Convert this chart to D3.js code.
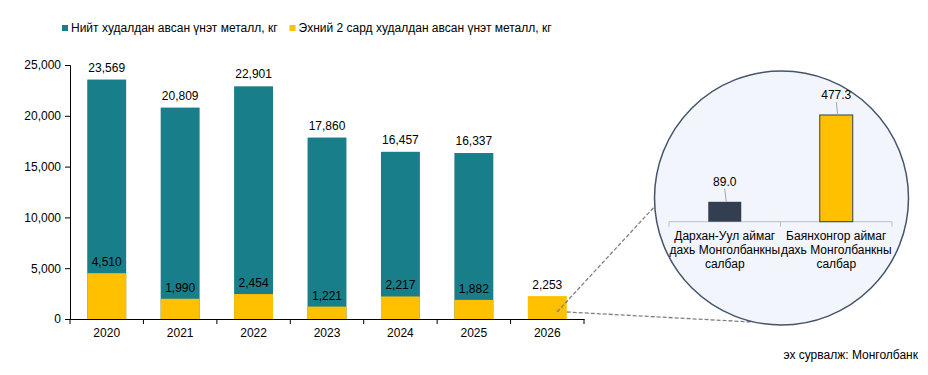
<!DOCTYPE html>
<html>
<head>
<meta charset="utf-8">
<script src="https://cdn.jsdelivr.net/npm/d3@7"></script>
<style>
  body { margin: 0; background: #fff; }
  svg { font-family: "Liberation Sans", Arial, sans-serif; }
  .axis text { font-size: 12px; fill: #000; }
  .axis path, .axis line { stroke: #000; }
</style>
</head>
<body>
<div id="chart"></div>
<script>
(function(){
  'use strict';

  // data
  var years = ['2020', '2021', '2022', '2023', '2024', '2025', '2026'];
  var totals = [23569, 20809, 22901, 17860, 16457, 16337, null];
  var lastTwo = [4510, 1990, 2454, 1221, 2217, 1882, 2253];
  var yTicks = [0, 5000, 10000, 15000, 20000, 25000];
  var seriesNames = ['Нийт худалдан авсан үнэт металл, кг', 'Эхний 2 сард худалдан авсан үнэт металл, кг'];

  var branches = ['Дархан-Уул аймаг дахь Монголбанкны салбар', 'Баянхонгор аймаг дахь Монголбанкны салбар'];
  var branchLines = [['Дархан-Уул аймаг', 'дахь Монголбанкны', 'салбар'], ['Баянхонгор аймаг', 'дахь Монголбанкны', 'салбар']];
  var branchValues = [89.0, 477.3];
  var sourceText = 'эх сурвалж: Монголбанк';

  var W = 928, H = 375;
  var teal = '#187e89', gold = '#ffc000', slate = '#333f50';

  var svg = d3.select('#chart').append('svg')
    .attr('width', W)
    .attr('height', H);

  var x = d3.scaleBand()
    .domain(years)
    .range([70, 584])
    .paddingInner(0.47)
    .paddingOuter(0.235);

  var y = d3.scaleLinear()
    .domain([0, 25000])
    .range([319, 65]);

  var fmt = d3.format(',');

  // axes
  svg.append('g')
    .attr('class', 'axis')
    .attr('transform', 'translate(70,0)')
    .call(d3.axisLeft(y).tickValues(yTicks).tickSize(5).tickPadding(4).tickFormat(fmt));

  var xAxis = svg.append('g')
    .attr('class', 'axis')
    .attr('transform', 'translate(0,319)')
    .call(d3.axisBottom(x).tickSize(0).tickPadding(9));

  // ticks between categories
  var step = x.step(), x0 = x.range()[0];
  xAxis.selectAll('.sep')
    .data(d3.range(years.length + 1))
    .enter()
    .append('line')
    .attr('class', 'sep')
    .attr('x1', function(i) { return x0 + i * step; })
    .attr('x2', function(i) { return x0 + i * step; })
    .attr('y1', 0)
    .attr('y2', 5)
    .style('stroke', '#000');

  var rows = years.map(function(d, i) { return {year: d, total: totals[i], part: lastTwo[i]}; });

  // total bars
  svg.selectAll('.tot')
    .data(rows.filter(function(d) { return d.total != null; }))
    .enter()
    .append('rect')
    .attr('class', 'tot')
    .attr('x', function(d) { return x(d.year); })
    .attr('width', x.bandwidth())
    .attr('y', function(d) { return y(d.total); })
    .attr('height', function(d) { return y(0) - y(d.total); })
    .style('fill', teal);

  // first two months bars
  svg.selectAll('.part')
    .data(rows)
    .enter()
    .append('rect')
    .attr('class', 'part')
    .attr('x', function(d) { return x(d.year); })
    .attr('width', x.bandwidth())
    .attr('y', function(d) { return y(d.part); })
    .attr('height', function(d) { return y(0) - y(d.part); })
    .style('fill', gold);

  svg.selectAll('.totlbl')
    .data(rows.filter(function(d) { return d.total != null; }))
    .enter()
    .append('text')
    .attr('class', 'totlbl')
    .attr('x', function(d) { return x(d.year) + x.bandwidth() / 2; })
    .attr('y', function(d) { return y(d.total) - 8; })
    .attr('text-anchor', 'middle')
    .style('font-size', '12px')
    .text(function(d) { return fmt(d.total); });

  svg.selectAll('.partlbl')
    .data(rows)
    .enter()
    .append('text')
    .attr('class', 'partlbl')
    .attr('x', function(d) { return x(d.year) + x.bandwidth() / 2; })
    .attr('y', function(d) { return y(d.part) - 7; })
    .attr('text-anchor', 'middle')
    .style('font-size', '12px')
    .text(function(d) { return fmt(d.part); });

  // legend
  var legend = svg.append('g').attr('transform', 'translate(62,28)');
  var lx = 0;
  seriesNames.forEach(function(name, i) {
    var g = legend.append('g').attr('transform', 'translate(' + lx + ',0)');
    g.append('rect').attr('x', 0).attr('y', -3).attr('width', 6).attr('height', 6)
      .style('fill', i === 0 ? teal : gold);
    var t = g.append('text').attr('x', 9).attr('y', 4)
      .style('font-size', '12px').text(name);
    lx += 9 + t.node().getComputedTextLength() + 12;
  });

  // zoom circle
  var cx = 781.5, cy = 198, r = 127;
  var last = rows[rows.length - 1];
  var px = x(last.year) + x.bandwidth() * 0.75, py = y(0) - 7;
  var px2 = x(last.year) + x.bandwidth(), py2 = y(0) - 7;

  svg.append('line')
    .attr('x1', px).attr('y1', py)
    .attr('x2', cx - 125.5).attr('y2', cy + 7)
    .style('stroke', '#808080').style('stroke-width', 1.3).style('stroke-dasharray', '4,2');
  svg.append('line')
    .attr('x1', px2).attr('y1', py2)
    .attr('x2', cx - 30).attr('y2', cy + 124)
    .style('stroke', '#808080').style('stroke-width', 1.3).style('stroke-dasharray', '4,2');

  svg.append('circle')
    .attr('cx', cx).attr('cy', cy).attr('r', r)
    .style('fill', '#f2f5fb')
    .style('stroke', '#44546a')
    .style('stroke-width', 1.5);

  var bx = d3.scaleBand()
    .domain(branches)
    .range([669, 892]);

  var by = d3.scaleLinear()
    .domain([0, 500])
    .range([221.7, 109.9]);

  var inset = svg.append('g');
  inset.append('line')
    .attr('x1', bx.range()[0]).attr('x2', bx.range()[1])
    .attr('y1', by(0)).attr('y2', by(0))
    .style('stroke', '#bfbfbf');
  inset.selectAll('.itick')
    .data([0, 1, 2])
    .enter()
    .append('line')
    .attr('x1', function(i) { return bx.range()[0] + i * bx.step(); })
    .attr('x2', function(i) { return bx.range()[0] + i * bx.step(); })
    .attr('y1', by(0)).attr('y2', by(0) + 5)
    .style('stroke', '#bfbfbf');

  var bw = 33;
  var bdata = branches.map(function(b, i) { return {name: b, value: branchValues[i], lines: branchLines[i], i: i}; });

  inset.selectAll('.ibar')
    .data(bdata)
    .enter()
    .append('rect')
    .attr('x', function(d) { return bx(d.name) + bx.bandwidth() / 2 - bw / 2; })
    .attr('width', bw)
    .attr('y', function(d) { return by(d.value); })
    .attr('height', function(d) { return by(0) - by(d.value); })
    .style('fill', function(d) { return d.i === 0 ? slate : gold; })
    .style('stroke', function(d) { return d.i === 0 ? 'none' : slate; })
    .style('stroke-width', 1);

  inset.selectAll('.ilead')
    .data(bdata)
    .enter()
    .append('line')
    .attr('x1', function(d) { return bx(d.name) + bx.bandwidth() / 2; })
    .attr('x2', function(d) { return bx(d.name) + bx.bandwidth() / 2 + 1.5; })
    .attr('y1', function(d) { return by(d.value) - 13; })
    .attr('y2', function(d) { return by(d.value); })
    .style('stroke', '#a6a6a6');

  inset.selectAll('.ilbl')
    .data(bdata)
    .enter()
    .append('text')
    .attr('x', function(d) { return bx(d.name) + bx.bandwidth() / 2; })
    .attr('y', function(d) { return by(d.value) - 16; })
    .attr('text-anchor', 'middle')
    .style('font-size', '12px')
    .text(function(d) { return d3.format('.1f')(d.value); });

  inset.selectAll('.icat')
    .data(bdata)
    .enter()
    .append('text')
    .attr('text-anchor', 'middle')
    .style('font-size', '12px')
    .selectAll('tspan')
    .data(function(d) { return d.lines.map(function(l) { return {l: l, cx: bx(d.name) + bx.bandwidth() / 2}; }); })
    .enter()
    .append('tspan')
    .attr('x', function(d) { return d.cx; })
    .attr('y', function(d, i) { return 240 + i * 14; })
    .text(function(d) { return d.l; });

  // source
  svg.append('text')
    .attr('x', 918)
    .attr('y', 359)
    .attr('text-anchor', 'end')
    .style('font-size', '12px')
    .text(sourceText);

}());
</script>
</body>
</html>
